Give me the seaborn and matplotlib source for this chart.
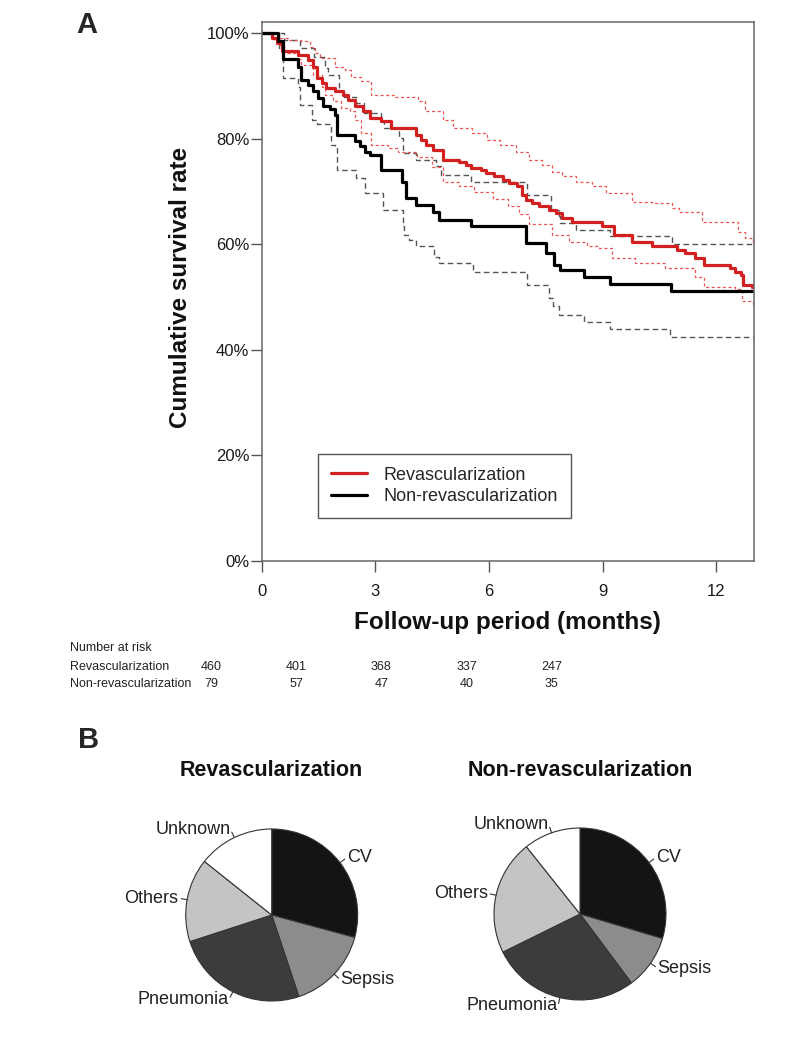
import numpy as np
import matplotlib
matplotlib.use("Agg")
import matplotlib.pyplot as plt
from matplotlib.lines import Line2D
from matplotlib import font_manager
import seaborn as sns

# Kaplan-Meier step curves (months, survival %)
REV_T = [0, 0.26, 0.40, 0.53, 0.96, 1.23, 1.36, 1.45, 1.58, 1.71, 1.93, 2.15, 2.28, 2.46, 2.68,
         2.85, 3.16, 3.42, 4.08, 4.21, 4.34, 4.52, 4.78, 5.22, 5.40, 5.53, 5.79, 5.92, 6.14, 6.36,
         6.53, 6.75, 6.88, 6.97, 7.15, 7.32, 7.58, 7.76, 7.93, 8.20, 8.99, 9.30, 9.78, 10.31, 10.96,
         11.18, 11.45, 11.67, 12.37, 12.50, 12.66, 12.72, 12.94]
REV_S = [100, 99.1, 98.2, 96.6, 95.9, 95.0, 93.7, 91.5, 90.6, 89.6, 89.0, 88.3, 87.4, 86.3, 85.2,
         83.9, 83.3, 82.0, 80.8, 79.8, 78.9, 77.9, 76.0, 75.7, 75.1, 74.4, 74.1, 73.5, 72.9, 72.2,
         71.7, 71.0, 69.4, 68.4, 67.8, 67.2, 66.5, 65.9, 65.0, 64.3, 63.4, 61.8, 60.5, 59.6, 59.0,
         58.3, 57.4, 56.1, 55.5, 54.8, 54.2, 52.3, 51.9]

REV_HI_T = [0, 0.44, 0.70, 1.05, 1.27, 1.40, 1.53, 1.93, 2.19, 2.37, 2.63, 2.89, 3.51, 4.12, 4.30,
            4.80, 5.05, 5.55, 5.95, 6.30, 6.71, 7.06, 7.41, 7.67, 7.93, 8.29, 8.73, 9.08, 9.78,
            10.31, 10.84, 11.01, 11.62, 12.59, 12.76, 12.98]
REV_HI_S = [100, 99.1, 98.8, 98.5, 97.5, 96.2, 95.3, 93.7, 93.1, 91.8, 90.9, 88.4, 88.0, 87.1, 85.3,
            83.6, 82.0, 81.1, 79.8, 78.9, 77.6, 76.0, 75.1, 73.8, 72.9, 71.9, 71.0, 69.7, 68.1,
            67.8, 66.9, 66.2, 64.3, 62.4, 61.2, 60.5]

REV_LO_T = [0, 0.30, 0.47, 0.60, 0.96, 1.05, 1.36, 1.58, 1.67, 1.89, 2.10, 2.32, 2.46, 2.63, 2.89,
            3.33, 3.60, 4.10, 4.50, 4.80, 5.20, 5.60, 6.10, 6.50, 6.80, 7.05, 7.67, 8.11, 8.60,
            8.90, 9.25, 9.87, 10.66, 11.45, 11.67, 12.50, 12.68, 12.98]
REV_LO_S = [100, 99.0, 97.8, 96.2, 95.1, 94.0, 92.1, 89.9, 88.3, 87.1, 85.8, 85.2, 83.6, 81.1, 78.9,
            78.2, 77.5, 76.5, 74.6, 71.8, 71.1, 69.9, 68.6, 67.3, 65.8, 63.8, 61.8, 60.5, 59.7,
            59.3, 57.4, 56.5, 55.5, 53.9, 52.0, 51.6, 49.2, 48.3]

NON_T = [0, 0.44, 0.57, 0.96, 1.05, 1.23, 1.36, 1.49, 1.62, 1.80, 1.93, 2.00, 2.46, 2.59, 2.72,
         2.85, 3.16, 3.70, 3.81, 4.08, 4.52, 4.69, 5.53, 6.97, 7.50, 7.72, 7.89, 8.51, 9.21, 10.82]
NON_S = [100, 98.6, 95.1, 93.7, 91.2, 90.2, 89.0, 87.7, 86.3, 85.7, 84.5, 80.8, 79.5, 78.6, 77.6,
         77.0, 74.1, 71.9, 68.8, 67.5, 66.2, 64.6, 63.4, 60.2, 58.3, 56.1, 55.2, 53.9, 52.5, 51.2]

NON_HI_T = [0, 0.60, 1.00, 1.39, 1.66, 1.74, 2.05, 2.18, 2.50, 2.71, 3.15, 3.24, 3.62, 3.73, 4.08,
            4.60, 4.74, 5.53, 7.01, 7.63, 7.85, 7.89, 8.30, 9.21, 10.84]
NON_HI_S = [100, 98.8, 97.2, 95.6, 93.4, 92.1, 89.0, 88.0, 86.8, 84.9, 83.3, 82.0, 80.2, 77.3, 76.0,
            74.8, 73.2, 71.9, 69.4, 66.5, 65.3, 64.0, 62.7, 61.5, 60.1]

NON_LO_T = [0, 0.45, 0.57, 0.96, 1.00, 1.32, 1.45, 1.84, 1.93, 1.98, 2.50, 2.72, 3.19, 3.73, 3.77,
            3.90, 4.08, 4.56, 4.69, 5.57, 7.01, 7.58, 7.70, 7.85, 8.51, 9.21, 10.79]
NON_LO_S = [100, 97.0, 91.5, 89.9, 86.4, 83.6, 82.9, 78.8, 78.5, 74.1, 72.5, 69.7, 66.5, 63.4, 61.8,
            60.9, 59.6, 57.7, 56.4, 54.8, 52.3, 49.8, 48.3, 46.6, 45.2, 43.9, 42.5]

FOLLOW_END = 13
X_TICKS = [0, 3, 6, 9, 12]
Y_TICKS = [0, 20, 40, 60, 80, 100]

GROUPS = ["Revascularization", "Non-revascularization"]

# number at risk
RISK_TIMES = [0, 3, 6, 9, 12]
RISK_REV = [460, 401, 368, 337, 247]
RISK_NON = [79, 57, 47, 40, 35]

# causes of death (%)
CAUSES = ["CV", "Sepsis", "Pneumonia", "Others", "Unknown"]
REV_PIE = [29.2, 15.7, 25.1, 15.7, 14.3]
NON_PIE = [29.6, 10.2, 27.9, 21.6, 10.7]
PIE_COLORS = ["#141414", "#8c8c8c", "#3c3c3c", "#c4c4c4", "#ffffff"]

RED = "#d21f1f"
RED_CI = "#ec5553"
GREY_CI = "#555555"

W, H = 790, 1041

sns.set_theme(style="white")
plt.rcParams["font.family"] = ["Liberation Sans", "DejaVu Sans"]

names = {f.name for f in font_manager.fontManager.ttflist}
if "Liberation Sans Narrow" in names:
    RISK_FONT, RISK_SIZE = "Liberation Sans Narrow", 10
else:
    RISK_FONT, RISK_SIZE = "Liberation Sans", 9

fig = plt.figure(figsize=(W / 100, H / 100), dpi=100)
ax = fig.add_axes([261.7 / W, 1 - 561 / H, (754 - 261.7) / W, (561 - 21.7) / H])


def km_line(t, s, color, lw, ls):
    x = list(t) + [FOLLOW_END]
    y = list(s) + [s[-1]]
    sns.lineplot(x=x, y=y, ax=ax, color=color, linewidth=lw, linestyle=ls,
                 drawstyle="steps-post", legend=False)


# confidence bands first, main curves on top
km_line(NON_HI_T, NON_HI_S, GREY_CI, 1.0, (0, (4, 2.5)))
km_line(NON_LO_T, NON_LO_S, GREY_CI, 1.0, (0, (4, 2.5)))
km_line(REV_HI_T, REV_HI_S, RED_CI, 0.9, (0, (2.5, 2)))
km_line(REV_LO_T, REV_LO_S, RED_CI, 0.9, (0, (2.5, 2)))
km_line(REV_T, REV_S, RED, 2.3, "-")
km_line(NON_T, NON_S, "black", 2.3, "-")

ax.set_xlim(0, FOLLOW_END)
ax.set_ylim(0, 102.2)
ax.set_xticks(X_TICKS)
ax.set_xticklabels([str(v) for v in X_TICKS])
ax.set_yticks(Y_TICKS)
ax.set_yticklabels([f"{v}%" for v in Y_TICKS])
ax.tick_params(bottom=True, left=True, direction="out", length=8, width=1,
               color="#555555", labelsize=12, labelcolor="#1a1a1a")
ax.tick_params(axis="y", pad=1)
ax.tick_params(axis="x", pad=8.5)
for sp in ax.spines.values():
    sp.set_color("#666666")
    sp.set_linewidth(1.1)

ax.set_xlabel("Follow-up period (months)", fontsize=17.5, weight="bold", color="#111111")
ax.set_ylabel("Cumulative survival rate", fontsize=17.5, weight="bold", color="#111111")
ax.xaxis.set_label_coords(0.5, -0.0927)
ax.yaxis.set_label_coords(-0.1416, 0.507)

handles = [Line2D([], [], color=RED, lw=2.3), Line2D([], [], color="black", lw=2.3)]
leg = ax.legend(handles, GROUPS, loc="upper left", bbox_to_anchor=(0.1144, 0.1984),
                borderaxespad=0, frameon=True, fancybox=False, edgecolor="#555555",
                fontsize=13, handlelength=2.0, handletextpad=0.95, borderpad=0.7,
                labelspacing=0.25, framealpha=1)
leg.get_frame().set_linewidth(1.0)

# number at risk table
fig.text(70 / W, 1 - 648 / H, "Number at risk", fontsize=RISK_SIZE, family=RISK_FONT,
         va="center", color="#222222")
for row_y, label, counts in [(666.7, GROUPS[0], RISK_REV), (684, GROUPS[1], RISK_NON)]:
    fig.text(70 / W, 1 - row_y / H, label, fontsize=RISK_SIZE, family=RISK_FONT,
             va="center", color="#222222")
    for t, n in zip(RISK_TIMES, counts):
        xp = 211 + t * 85.2 / 3
        fig.text(xp / W, 1 - row_y / H, str(n), fontsize=RISK_SIZE, family=RISK_FONT,
                 ha="center", va="center", color="#222222")

# panel labels
fig.text(76 / W, 1 - 32.7 / H, "A", fontsize=21, weight="bold", va="baseline")
fig.text(78 / W, 1 - 748 / H, "B", fontsize=21, weight="bold", va="baseline")

# pies
size = 215
for cx, cy, vals, title in [(271.7, 915, REV_PIE, GROUPS[0]), (580, 914, NON_PIE, GROUPS[1])]:
    pax = fig.add_axes([(cx - size / 2) / W, 1 - (cy + size / 2) / H, size / W, size / H])
    wedges, texts = pax.pie(vals, labels=CAUSES, colors=PIE_COLORS, startangle=90,
                            counterclock=False, labeldistance=1.1,
                            wedgeprops=dict(edgecolor="#333333", linewidth=0.8),
                            textprops=dict(fontsize=13, color="#222222"))
    for w in wedges:
        ang = np.deg2rad((w.theta1 + w.theta2) / 2)
        pax.plot([np.cos(ang), 1.07 * np.cos(ang)], [np.sin(ang), 1.07 * np.sin(ang)],
                 color="#333333", lw=0.8, clip_on=False)
    pax.set_xlim(-1.25, 1.25)
    pax.set_ylim(-1.25, 1.25)
    fig.text(cx / W, 1 - 776 / H, title, ha="center", va="baseline",
             fontsize=15.5, weight="bold", color="#111111")

fig.savefig("out.png", dpi=100)
